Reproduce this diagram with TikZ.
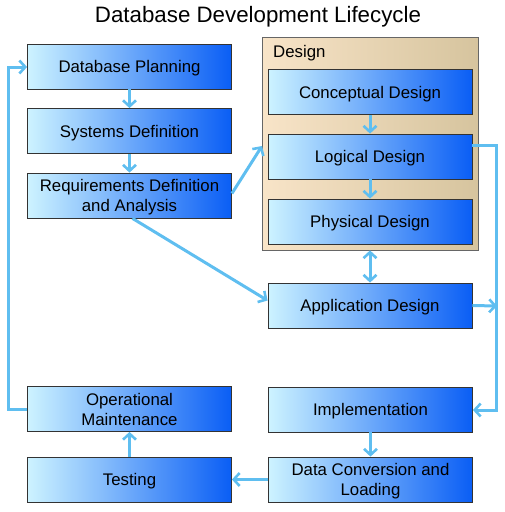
\documentclass[tikz,border=0pt]{standalone}
\usepackage{fontspec}
\setmainfont{Liberation Sans}
\usetikzlibrary{arrows.meta}
\definecolor{flowblue}{RGB}{95,190,240}
\definecolor{boxlight}{RGB}{205,243,255}
\definecolor{boxmid}{RGB}{45,135,245}
\definecolor{boxdark}{RGB}{10,94,245}
\definecolor{tanlight}{RGB}{248,228,200}
\definecolor{tanmid}{RGB}{244,236,218}
\definecolor{tandark}{RGB}{214,196,158}
\begin{document}
\begin{tikzpicture}[x=1pt, y=-1pt,
    stage/.style={draw=black!80, line width=0.8pt, left color=boxlight, middle color=boxmid, right color=boxdark,
        minimum width=204, minimum height=45, inner sep=0, text depth=-2pt, align=center, font=\fontsize{16.8}{20}\selectfont},
    group/.style={draw=black!60, line width=0.8pt, left color=tanlight, middle color=tanmid, right color=tandark,
        minimum width=216, minimum height=213, inner sep=0},
    flow/.style={draw=flowblue, line width=3pt, -{Straight Barb[length=6pt,width=13pt,line width=2.6pt]}},
    flowboth/.style={flow, {Straight Barb[length=6pt,width=13pt,line width=2.6pt]}-{Straight Barb[length=6pt,width=13pt,line width=2.6pt]}}]
    \useasboundingbox (0,0) rectangle (505,512);

    \draw(258,16.5) node [font=\fontsize{22.3}{26}\selectfont](title){Database Development Lifecycle};

    \draw(370,143.5) node [group](design){};
    \draw(273,53) node [anchor=west, inner sep=0, font=\fontsize{16.8}{20}\selectfont](designlbl){Design};

    \draw(129.5, 66.5) node [stage](plan){Database Planning};
    \draw(129.5,131.0) node [stage](sysdef){Systems Definition};
    \draw(129.5,195.5) node [stage](reqdef){Requirements Definition\\and Analysis};

    \draw(370, 92.0) node [stage](concept){Conceptual Design};
    \draw(370,156.5) node [stage](logical){Logical Design};
    \draw(370,221.5) node [stage](physical){Physical Design};
    \draw(370,305.5) node [stage](appdes){Application Design};

    \draw(129.5,409.0) node [stage](opmaint){Operational\\Maintenance};
    \draw(129.5,479.5) node [stage](testing){Testing};
    \draw(370.5,409.5) node [stage](implem){Implementation};
    \draw(370.5,479.5) node [stage](dataconv){Data Conversion and\\Loading};

    \coordinate (lgin) at (262,146);
    \coordinate (lgout) at (472,145);
    \coordinate (rtop) at (496,145);
    \coordinate (rbot) at (496,410);
    \coordinate (appout) at (497,306);
    \coordinate (lbot) at (8,409);
    \coordinate (ltop) at (8,67);

    \draw[flow] (plan) -- (sysdef);
    \draw[flow] (sysdef) -- (reqdef);
    \draw[flow] (concept) -- (logical);
    \draw[flow] (logical) -- (physical);
    \draw[flow] ([yshift=2pt]reqdef.east) -- (lgin);
    \draw[flow] ([xshift=3pt]reqdef.south) -- ([yshift=5pt]appdes.west);
    \draw[flowboth] (design.south) -- (appdes.north);
    \draw[flow] (lgout) -- (rtop) -- (rbot) -- (implem.east |- rbot);
    \draw[flow] (appdes.east) -- (appout);
    \draw[flow] (implem) -- (dataconv);
    \draw[flow] (dataconv) -- (testing);
    \draw[flow] (testing) -- (opmaint);
    \draw[flow] (opmaint.west) -- (lbot) -- (ltop) -- (plan.west |- ltop);
\end{tikzpicture}
\end{document}
